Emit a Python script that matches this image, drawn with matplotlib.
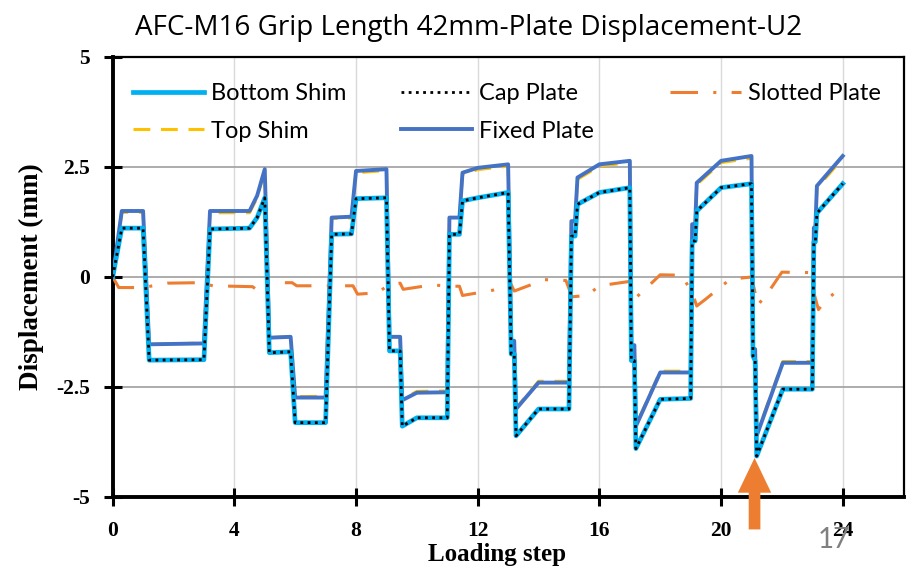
import numpy as np
import matplotlib.pyplot as plt

# loading-step grid shared by the four main plate/shim curves
steps = [0, 0.3, 1.0, 1.2, 3.0, 3.2, 4.5, 4.75, 5.0, 5.15, 5.85, 6.0, 7.0, 7.2, 7.85, 8.0, 9.0,
         9.1, 9.45, 9.52, 10.0, 11.0, 11.07, 11.4, 11.5, 12.0, 13.0, 13.1, 13.2, 13.26, 14.0,
         15.0, 15.08, 15.2, 15.28, 16.0, 17.0, 17.05, 17.15, 17.2, 18.0, 19.0, 19.05, 19.15,
         19.2, 20.0, 21.0, 21.05, 21.12, 21.17, 22.03, 23.0, 23.05, 23.1, 23.15, 24.0]

fixed_plate = [0, 1.5, 1.5, -1.53, -1.51, 1.5, 1.5, 1.85, 2.45, -1.38, -1.36, -2.74, -2.74, 1.35,
               1.37, 2.41, 2.45, -1.36, -1.36, -2.8, -2.63, -2.62, 1.35, 1.35, 2.37, 2.48, 2.56,
               -1.45, -1.45, -3.0, -2.4, -2.4, 1.27, 1.27, 2.26, 2.56, 2.64, -1.55, -1.55, -3.39,
               -2.17, -2.17, 1.2, 1.2, 2.14, 2.64, 2.75, -1.64, -1.64, -3.61, -1.95, -1.95, 1.12,
               1.12, 2.07, 2.75]

top_shim = [0, 1.47, 1.47, -1.53, -1.5, 1.46, 1.46, 1.8, 2.42, -1.38, -1.35, -2.72, -2.71, 1.33,
            1.34, 2.37, 2.42, -1.36, -1.36, -2.78, -2.6, -2.59, 1.32, 1.32, 2.33, 2.44, 2.52,
            -1.45, -1.45, -2.98, -2.37, -2.37, 1.25, 1.25, 2.22, 2.52, 2.6, -1.55, -1.55, -3.37,
            -2.14, -2.14, 1.18, 1.18, 2.1, 2.6, 2.7, -1.64, -1.64, -3.58, -1.92, -1.92, 1.1,
            1.1, 2.02, 2.7]

cap_plate = [0, 1.11, 1.11, -1.89, -1.88, 1.09, 1.11, 1.35, 1.8, -1.72, -1.7, -3.31, -3.31, 0.97,
             0.98, 1.78, 1.8, -1.68, -1.68, -3.39, -3.2, -3.2, 0.97, 0.97, 1.73, 1.8, 1.92,
             -1.75, -1.75, -3.61, -3.0, -3.0, 0.93, 0.93, 1.65, 1.92, 2.03, -1.9, -1.9, -3.9,
             -2.78, -2.76, 0.82, 0.82, 1.5, 2.03, 2.12, -1.8, -1.9, -4.07, -2.55, -2.55, 0.8,
             0.8, 1.45, 2.12]

bottom_shim = cap_plate

# the slotted plate has its own sampling
slot_steps = [0, 0.2, 1.0, 1.8, 2.8, 3.3, 4.6, 4.75, 5.0, 5.9, 6.05, 7.9, 8.05, 8.7, 9.1, 9.45,
              9.55, 10.5, 11.1, 11.4, 11.5, 12.5, 13.1, 13.2, 14.2, 14.9, 15.1, 15.6, 16.0, 17.0,
              17.15, 17.5, 18.0, 18.7, 19.05, 19.2, 19.5, 20.3, 21.0, 21.1, 21.2, 21.5, 22.0,
              22.9, 23.05, 23.2, 23.5, 24.0]
slotted_plate = [0, -0.24, -0.24, -0.14, -0.13, -0.2, -0.22, -0.3, -0.13, -0.13, -0.2, -0.2,
                 -0.39, -0.36, -0.17, -0.14, -0.28, -0.18, -0.21, -0.21, -0.42, -0.3, -0.17,
                 -0.32, -0.06, -0.08, -0.45, -0.42, -0.2, -0.1, -0.5, -0.28, 0.05, 0.04, -0.35,
                 -0.66, -0.5, -0.05, 0.0, -0.3, -0.64, -0.4, 0.11, 0.1, -0.36, -0.74, -0.5, -0.2]

x_ticks = [0, 4, 8, 12, 16, 20, 24]
y_ticks = [-5, -2.5, 0, 2.5, 5]
y_labels = ['-5', '-2.5', '0', '2.5', '5']

serif = 'Liberation Serif'
W, H = 913, 571

fig = plt.figure(figsize=(W / 100, H / 100), dpi=100)
ax = fig.add_axes([0.1234, 0.1296, 0.8663, 0.7706])

l_bot, = ax.plot(steps, bottom_shim, color='#00B0F0', lw=3.4, label='Bottom Shim', zorder=4)
l_top, = ax.plot(steps, top_shim, color='#FFC000', lw=2.2, ls=(0, (5.5, 3.5)),
                 label='Top Shim', zorder=2)
l_cap, = ax.plot(steps, cap_plate, color='black', lw=2.0, ls=(0, (1, 1.6)),
                 label='Cap Plate', zorder=5)
l_fix, = ax.plot(steps, fixed_plate, color='#4472C4', lw=2.8, label='Fixed Plate', zorder=3)
l_slot, = ax.plot(slot_steps, slotted_plate, color='#ED7D31', lw=2.2, ls=(0, (9, 5, 1, 5)),
                  label='Slotted Plate', zorder=3)

ax.set_xlim(0, 26)
ax.set_ylim(-5, 5)
ax.set_xticks(x_ticks)
ax.set_yticks(y_ticks)
ax.set_yticklabels(y_labels)

for v in x_ticks[1:]:
    ax.axvline(v, color='#D9D9D9', lw=1.0, zorder=0)
for v in [-2.5, 0, 2.5]:
    ax.axhline(v, color='#A6A6A6', lw=1.3, zorder=0)

for s in ax.spines.values():
    s.set_color('black')
    s.set_linewidth(1.6)
ax.spines['left'].set_linewidth(2.8)
ax.spines['bottom'].set_linewidth(2.8)

ax.tick_params(direction='inout', length=13, width=2.2)
ax.tick_params(axis='x', pad=11)
ax.tick_params(axis='y', pad=10)
for lab in ax.get_xticklabels() + ax.get_yticklabels():
    lab.set_fontfamily(serif)
    lab.set_fontweight('bold')
    lab.set_fontsize(15.5)

ax.set_xlabel('Loading step', fontfamily=serif, fontweight='bold', fontsize=18)
ax.xaxis.set_label_coords(12.65 / 26, -0.105)
ax.set_ylabel('Displacement (mm)', fontfamily=serif, fontweight='bold', fontsize=19.5)
ax.yaxis.set_label_coords(-0.087, 0.5)

fig.text(469 / W, 1 - 28 / H, 'AFC-M16 Grip Length 42mm-Plate Displacement-U2',
         ha='center', va='center', fontfamily='Open Sans', fontsize=20)

# legend laid out as three separate columns
leg_kw = dict(loc='upper left', frameon=False, prop={'family': 'Lato', 'size': 17},
              handlelength=3.0, handletextpad=0.3, labelspacing=0.7,
              borderpad=0, borderaxespad=0, bbox_transform=fig.transFigure)
columns = [([l_bot, l_top], 133), ([l_cap, l_fix], 401), ([l_slot], 670)]
for handles, xpix in columns:
    leg = fig.legend(handles=handles, bbox_to_anchor=(xpix / W, 1 - 83 / H), **leg_kw)

# arrow marking the peak of step 21
ax.annotate('', xy=(21.1, -4.05), xytext=(21.1, -5.8), annotation_clip=False,
            arrowprops=dict(arrowstyle='simple,head_width=1.2,head_length=1.25,tail_width=0.42',
                            mutation_scale=20, color='#ED7D31', lw=0))

fig.text(834 / W, 1 - 540 / H, '17', ha='center', va='center', color='#808080',
         fontfamily='Lato', fontsize=20)

fig.savefig('out.png', dpi=100)
